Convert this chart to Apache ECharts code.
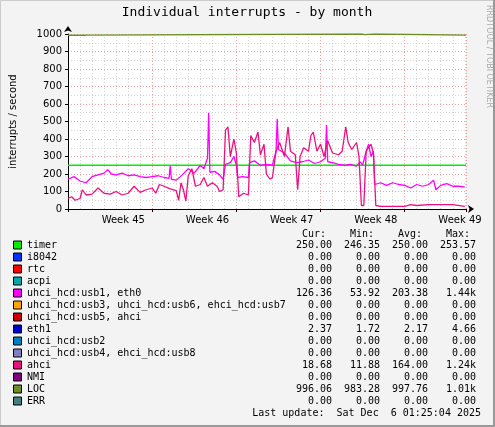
<!DOCTYPE html>
<html>
<head>
<meta charset="UTF-8">
<title>Individual interrupts - by month</title>
<script src="https://cdn.jsdelivr.net/npm/echarts@6/dist/echarts.min.js"></script>
<style>html,body{margin:0;padding:0;background:#f3f3f3}</style>
</head>
<body>
<div id="chart" style="width:495px;height:427px"></div>
<script type="text/javascript">
// x = days since start of week 44, y = interrupts per second
var weekLabels = ['Week 45', 'Week 46', 'Week 47', 'Week 48', 'Week 49'];
var weekLabelPos = [4.6, 11.6, 18.6, 25.6, 32.6];

var usb1Days = [0,0.5,1,1.5,2,2.5,3,3.3,3.6,4,4.5,5,5.5,6,6.5,7,7.5,8,8.4,8.5,8.6,9,9.5,10,10.5,11,11.3,11.6,11.7,11.8,12.2,12.6,12.9,13.1,13.5,13.8,14.0,14.1,14.5,15,15.1,15.5,16,16.5,17,17.3,17.4,17.5,18,18.5,19,19.5,20,20.5,21,21.4,21.5,21.6,22,22.5,23,23.5,24,24.3,24.5,24.8,25,25.2,25.4,25.5,26,26.5,27,27.5,28,28.5,29,29.5,30,30.4,30.6,31,31.5,32,32.5,33];
var usb1Vals = [170,185,160,150,185,195,205,225,200,195,205,190,195,185,180,185,190,180,175,245,170,165,195,230,205,250,230,290,550,210,215,195,170,255,265,300,250,180,185,180,265,275,250,255,250,330,515,340,320,275,265,270,280,260,270,290,480,270,265,255,250,255,245,270,250,330,370,300,330,140,150,135,150,140,135,120,140,130,140,165,110,135,145,130,130,125];

var ahciDays = [0,0.3,0.6,1,1.2,1.5,2,2.5,3,3.5,4,4.5,5,5.5,6,6.5,7,7.3,7.6,8,8.5,9,9.2,9.4,9.6,9.8,10,10.3,10.6,11,11.3,11.6,12,12.4,12.6,12.9,13.1,13.3,13.5,13.8,14.0,14.2,14.6,15,15.2,15.5,15.8,16,16.3,16.5,16.8,17,17.3,17.6,18,18.3,18.5,18.9,19.1,19.3,19.6,20,20.2,20.4,20.7,21,21.3,21.6,22,22.5,22.8,23.1,23.3,23.6,24,24.2,24.4,24.6,24.8,25.2,25.4,25.6,26,27,28,28.5,29,30,31,32,33];
var ahciVals = [60,70,50,60,110,80,85,120,90,85,100,80,90,130,95,110,120,90,140,130,115,105,50,150,110,45,190,230,130,140,180,130,150,130,100,110,450,470,300,400,320,70,90,80,420,380,440,310,370,200,170,180,330,380,300,470,330,310,110,300,350,330,420,440,330,370,300,390,320,310,330,470,380,340,380,300,20,20,330,370,320,20,15,15,15,25,20,25,25,25,15];

var locDays = [0,1.5,1.5,24.4,24.5,24.7,24.8,25.5,25.6,33.1];
var locVals = [993,993,1000,1000,996,996,1000,1000,993,993];

var timerDays = [0,33.1];
var timerVals = [250,250];

var legendNames = ['timer','i8042','rtc','acpi','uhci_hcd:usb1, eth0','uhci_hcd:usb3, uhci_hcd:usb6, ehci_hcd:usb7','uhci_hcd:usb5, ahci','eth1','uhci_hcd:usb2','uhci_hcd:usb4, ehci_hcd:usb8','ahci','NMI','LOC','ERR'];
var legendColors = ['#00ee00','#0033ff','#ff0000','#00aaaa','#ff00ff','#ffa500','#cc0000','#0000cc','#0080c0','#8080c0','#ee1080','#800080','#6b8e23','#408080'];
var curVals = ['250.00','0.00','0.00','0.00','126.36','0.00','0.00','2.37','0.00','0.00','18.68','0.00','996.06','0.00'];
var minVals = ['246.35','0.00','0.00','0.00','53.92','0.00','0.00','1.72','0.00','0.00','11.88','0.00','983.28','0.00'];
var avgVals = ['250.00','0.00','0.00','0.00','203.38','0.00','0.00','2.17','0.00','0.00','164.00','0.00','997.76','0.00'];
var maxVals = ['253.57','0.00','0.00','0.00','1.44k','0.00','0.00','4.66','0.00','0.00','1.24k','0.00','1.01k','0.00'];

function pairs(xs, ys) {
    var out = [];
    for (var i = 0; i < xs.length; i++) out.push([xs[i], ys[i]]);
    return out;
}

var mono = '"DejaVu Sans Mono", monospace';
var graphics = [];
var colX = [332, 380, 428, 476];
var heads = ['Cur:', 'Min:', 'Avg:', 'Max:'];
for (var h = 0; h < 4; h++) {
    graphics.push({type: 'text', x: colX[h] - 6, y: 234, style: {text: heads[h], font: '10px ' + mono, fill: '#000', align: 'right', verticalAlign: 'middle'}});
}
for (var i = 0; i < legendNames.length; i++) {
    var yy = 245 + i * 12;
    graphics.push({type: 'rect', shape: {x: 13.5, y: yy - 4, width: 8, height: 8}, style: {fill: legendColors[i], stroke: '#000', lineWidth: 1}});
    graphics.push({type: 'text', x: 27, y: yy, style: {text: legendNames[i], font: '10px ' + mono, fill: '#000', verticalAlign: 'middle'}});
    var vals = [curVals[i], minVals[i], avgVals[i], maxVals[i]];
    for (var c = 0; c < 4; c++) {
        graphics.push({type: 'text', x: colX[c], y: yy, style: {text: vals[c], font: '10px ' + mono, fill: '#000', align: 'right', verticalAlign: 'middle'}});
    }
}
graphics.push({type: 'text', x: 481, y: 413, style: {text: 'Last update:  Sat Dec  6 01:25:04 2025', font: '10px ' + mono, fill: '#000', align: 'right', verticalAlign: 'middle'}});
graphics.push({type: 'text', x: 247, y: 13, style: {text: 'Individual interrupts - by month', font: '13px ' + mono, fill: '#000', align: 'center', verticalAlign: 'middle'}});
graphics.push({type: 'text', x: 489, y: 5, rotation: -Math.PI / 2, style: {text: 'RRDTOOL / TOBI OETIKER', font: '8px "DejaVu Sans"', fill: '#aaaaaa', verticalAlign: 'middle'}});
graphics.push({type: 'rect', shape: {x: 0.5, y: 0.5, width: 493, height: 425}, style: {fill: 'none', stroke: '#cccccc', lineWidth: 1}});
graphics.push({type: 'polyline', shape: {points: [[494, 0], [494, 426], [0, 426]]}, style: {stroke: '#999999', lineWidth: 2}});

var myChart = echarts.init(document.getElementById('chart'));
var option = {
    backgroundColor: '#f3f3f3',
    animation: false,
    grid: {left: 64, right: 29, top: 34, bottom: 218, backgroundColor: '#ffffff', show: true, borderWidth: 0},
    xAxis: {
        type: 'value', min: 0, max: 33.1, interval: 7,
        axisLine: {lineStyle: {color: '#000', width: 1}, symbol: ['none', 'arrow'], symbolSize: [6, 6], symbolOffset: [0, 8]},
        axisTick: {show: true, length: 3, inside: false, lineStyle: {color: '#000'}},
        axisLabel: {
            customValues: weekLabelPos,
            formatter: function (v) { return weekLabels[weekLabelPos.indexOf(v)]; },
            fontFamily: 'DejaVu Sans', fontSize: 10, color: '#000', margin: 6
        },
        splitLine: {show: true, lineStyle: {color: '#f0a0a0', type: [1, 2], width: 1}},
        minorTick: {show: true, splitNumber: 7, length: 0},
        minorSplitLine: {show: true, lineStyle: {color: '#d4d4d4', type: [1, 2], width: 1}}
    },
    yAxis: {
        type: 'value', min: 0, max: 1000, interval: 100,
        name: 'interrupts / second', nameLocation: 'middle', nameGap: 50, nameRotate: 90,
        nameTextStyle: {fontFamily: 'DejaVu Sans', fontSize: 10, color: '#000'},
        axisLine: {show: true, lineStyle: {color: '#000'}, symbol: ['none', 'arrow'], symbolSize: [6, 6], symbolOffset: [0, 8]},
        axisTick: {show: true, length: 3, lineStyle: {color: '#000'}},
        axisLabel: {fontFamily: 'DejaVu Sans', fontSize: 10, color: '#000', margin: 6, formatter: function (v) { return String(v); }},
        splitLine: {show: true, lineStyle: {color: '#f0a0a0', type: [1, 2], width: 1}},
        minorTick: {show: true, splitNumber: 2, length: 0},
        minorSplitLine: {show: true, lineStyle: {color: '#d4d4d4', type: [1, 2], width: 1}}
    },
    series: [
        {name: 'timer', type: 'line', data: pairs(timerDays, timerVals), showSymbol: false, lineStyle: {color: legendColors[0], width: 1.3}},
        {name: 'uhci_hcd:usb1, eth0', type: 'line', data: pairs(usb1Days, usb1Vals), showSymbol: false, lineStyle: {color: legendColors[4], width: 1.3}},
        {name: 'ahci', type: 'line', data: pairs(ahciDays, ahciVals), showSymbol: false, lineStyle: {color: legendColors[10], width: 1.3}},
        {name: 'LOC', type: 'line', data: pairs(locDays, locVals), showSymbol: false, lineStyle: {color: legendColors[12], width: 1.3}}
    ],
    graphic: graphics
};
myChart.setOption(option);
</script>
</body>
</html>
